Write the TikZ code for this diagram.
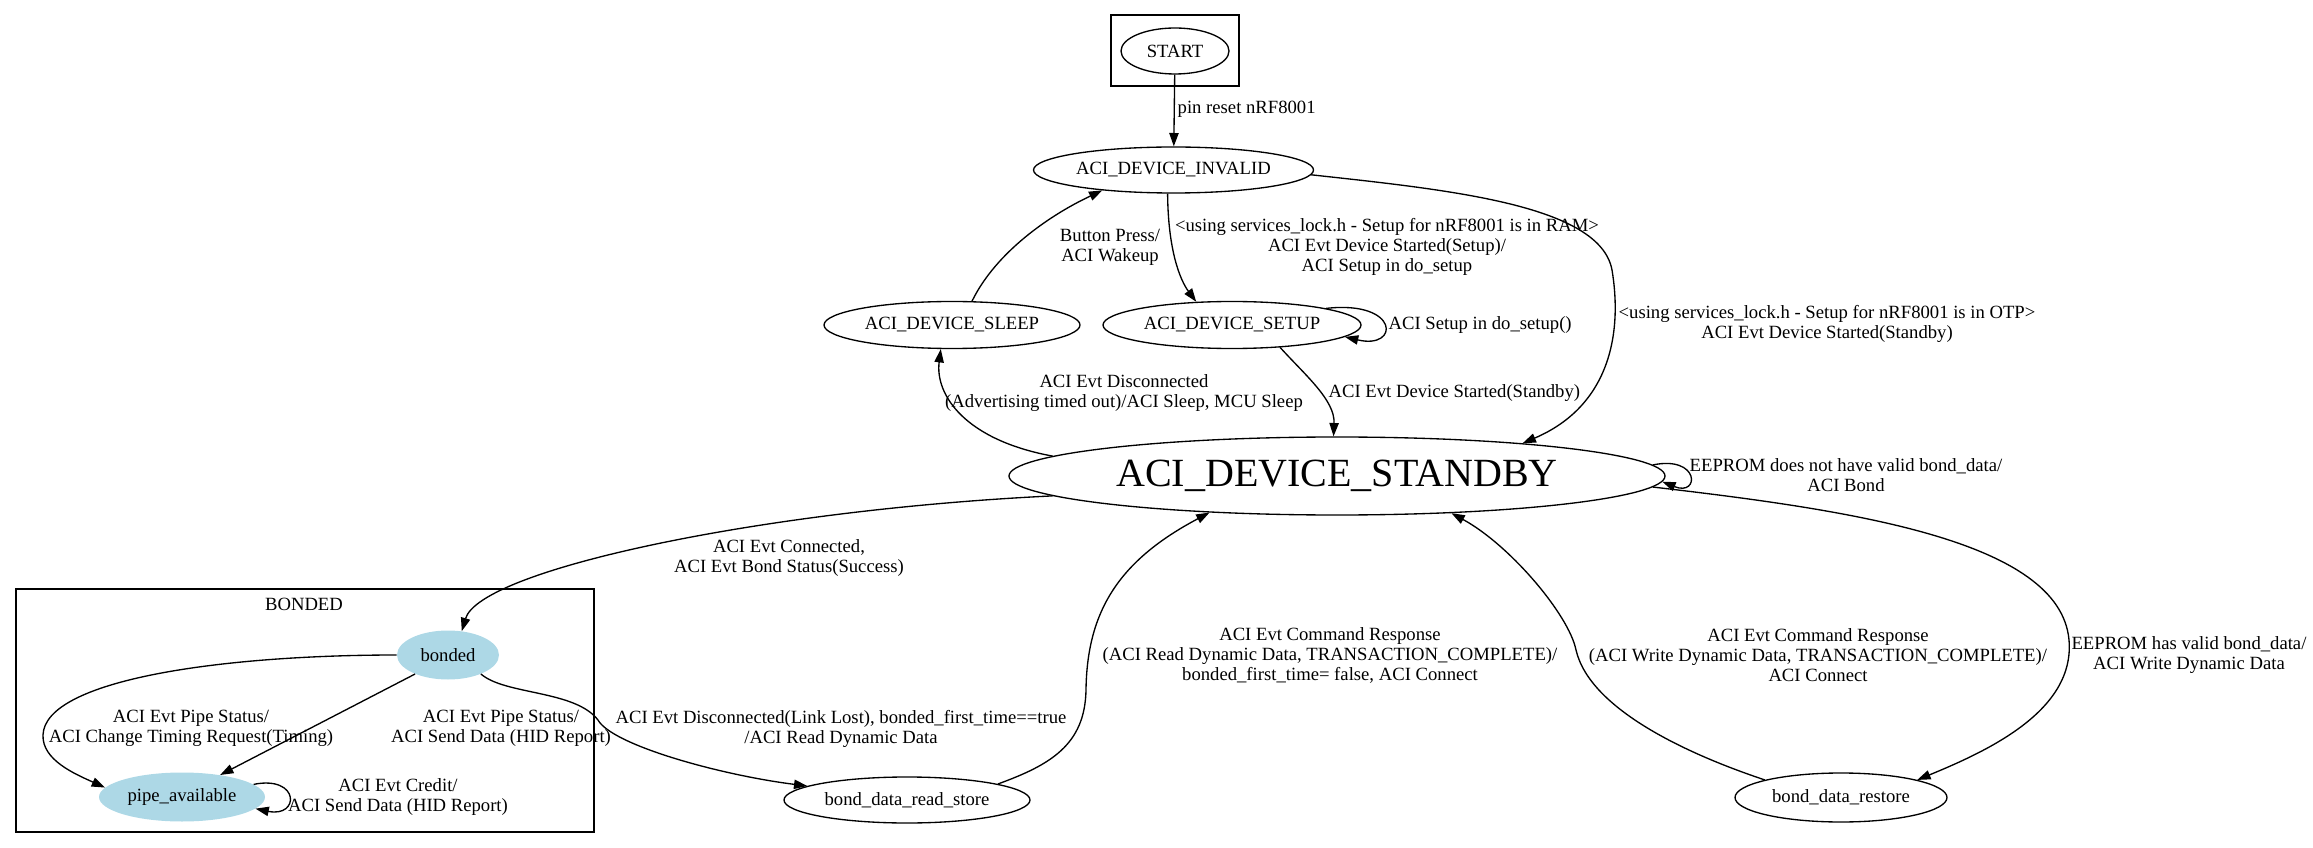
\documentclass[tikz,border=0pt]{standalone}
\usepackage{fontspec}
\setmainfont{Liberation Serif}
\usetikzlibrary{arrows.meta}
\usetikzlibrary{shapes.geometric}
\definecolor{lightblue}{HTML}{ADD8E6}

\begin{document}
\begin{tikzpicture}[x=0.75pt, y=-0.75pt,
                    font=\fontsize{14}{15}\selectfont,
                    state/.style={draw, ellipse, inner sep=0pt, line width=1pt},
                    bond/.style={fill=lightblue, ellipse, inner sep=0pt},
                    lbl/.style={align=center, inner sep=0pt},
                    trans/.style={-{Triangle[length=10pt,width=7pt]}, line width=1pt}]

    \useasboundingbox (0,0) rectangle (2313,848);

    \draw[line width=1pt] (1111,15) rectangle (1239,86);
    \draw[line width=1pt] (16,589) rectangle (594,832);
    \node[lbl] (bondedname) at (304,604) {BONDED};

    \node[state, minimum width=81pt, minimum height=34.5pt] (start) at (1175,51) {START};
    \node[state, minimum width=210pt, minimum height=34.5pt] (invalid) at (1173.5,170) {ACI\_DEVICE\_INVALID};
    \node[state, minimum width=192pt, minimum height=35.25pt] (sleep) at (952,325) {ACI\_DEVICE\_SLEEP};
    \node[state, minimum width=193.5pt, minimum height=35.25pt] (setup) at (1232,325) {ACI\_DEVICE\_SETUP};
    \node[state, minimum width=492pt, minimum height=58.5pt,
          font=\fontsize{30}{32}\selectfont] (standby) at (1337,476) {ACI\_DEVICE\_STANDBY};
    \node[bond, minimum width=76.5pt, minimum height=36.75pt] (bonded) at (448,655) {bonded};
    \node[bond, minimum width=124.5pt, minimum height=36.75pt] (pipe) at (182,797) {pipe\_available};
    \node[state, minimum width=184.5pt, minimum height=34.5pt] (readstore) at (907,800) {bond\_data\_read\_store};
    \node[state, minimum width=159pt, minimum height=36.75pt] (restore) at (1841,797.5) {bond\_data\_restore};

    \draw[trans] (start) -- (invalid)
        node[lbl, anchor=west] (lreset) at (1177,109) {pin reset nRF8001};
    \draw[trans] (sleep.50) .. controls (996,252) and (1050,215) .. (invalid.-164)
        node[lbl] (lwake) at (1110,247) {Button Press/\\ACI Wakeup};
    \draw[trans] (invalid.-104) .. controls (1168,250) and (1180,280) .. (setup.147)
        node[lbl] (lram) at (1387,247) {<using services\_lock.h - Setup for nRF8001 is in RAM>\\ACI Evt Device Started(Setup)/\\ACI Setup in do\_setup};
    \draw[trans] (setup.10) .. controls (1400,300) and (1400,350) .. (setup.-6)
        node[lbl, anchor=west] (ldosetup) at (1388,325) {ACI Setup in do\_setup()};
    \draw[trans] (invalid.-2) .. controls (1450,190) and (1600,205) .. (1612,270)
        .. controls (1622,330) and (1612,405) .. (standby.10)
        node[lbl] (lotp) at (1827,324) {<using services\_lock.h - Setup for nRF8001 is in OTP>\\ACI Evt Device Started(Standby)};
    \draw[trans] (setup.-25) .. controls (1305,375) and (1335,400) .. (standby.95)
        node[lbl, anchor=west] (lstarted) at (1328,393) {ACI Evt Device Started(Standby)};
    \draw[trans] (standby.176) .. controls (965,440) and (935,395) .. (sleep.-115)
        node[lbl] (lsleep) at (1124,393) {ACI Evt Disconnected\\(Advertising timed out)/ACI Sleep, MCU Sleep};
    \draw[trans] (standby.2) .. controls (1700,455) and (1700,497) .. (standby.-1.5)
        node[lbl] (lbond) at (1846,475) {EEPROM does not have valid bond\_data/\\ACI Bond};
    \draw[trans] (standby.-176) .. controls (760,510) and (480,570) .. (bonded.60)
        node[lbl] (lconnected) at (789,558) {ACI Evt Connected,\\ACI Evt Bond Status(Success)};
    \draw[trans] (bonded.180) .. controls (220,655) and (45,680) .. (43,735)
        .. controls (42,760) and (75,774) .. (pipe.173)
        node[lbl] (ltiming) at (191,728) {ACI Evt Pipe Status/\\ACI Change Timing Request(Timing)};
    \draw[trans] (bonded.-150) -- (pipe.30)
        node[lbl] (lhid) at (501,728) {ACI Evt Pipe Status/\\ACI Send Data (HID Report)};
    \draw[trans] (pipe.10) .. controls (300,775) and (300,818) .. (pipe.-9)
        node[lbl] (lcredit) at (398,797) {ACI Evt Credit/\\ACI Send Data (HID Report)};
    \draw[trans] (bonded.-30) .. controls (505,695) and (575,690) .. (598,720)
        .. controls (612,745) and (720,775) .. (readstore.172)
        node[lbl] (llost) at (841,729) {ACI Evt Disconnected(Link Lost), bonded\_first\_time==true\\/ACI Read Dynamic Data};
    \draw[trans] (readstore.10) .. controls (1050,765) and (1085,745) .. (1086,690)
        .. controls (1087,610) and (1120,560) .. (standby.-164)
        node[lbl] (lread) at (1330,655) {ACI Evt Command Response\\(ACI Read Dynamic Data, TRANSACTION\_COMPLETE)/\\bonded\_first\_time= false, ACI Connect};
    \draw[trans] (restore.167) .. controls (1690,755) and (1590,710) .. (1576,650)
        .. controls (1569,615) and (1510,545) .. (standby.-18)
        node[lbl] (lwrite) at (1818,655) {ACI Evt Command Response\\(ACI Write Dynamic Data, TRANSACTION\_COMPLETE)/\\ACI Connect};
    \draw[trans] (standby.-2.5) .. controls (1850,510) and (2060,540) .. (2069,640)
        .. controls (2075,710) and (1990,750) .. (restore.13)
        node[lbl] (lvalid) at (2189,655) {EEPROM has valid bond\_data/\\ACI Write Dynamic Data};
\end{tikzpicture}
\end{document}
